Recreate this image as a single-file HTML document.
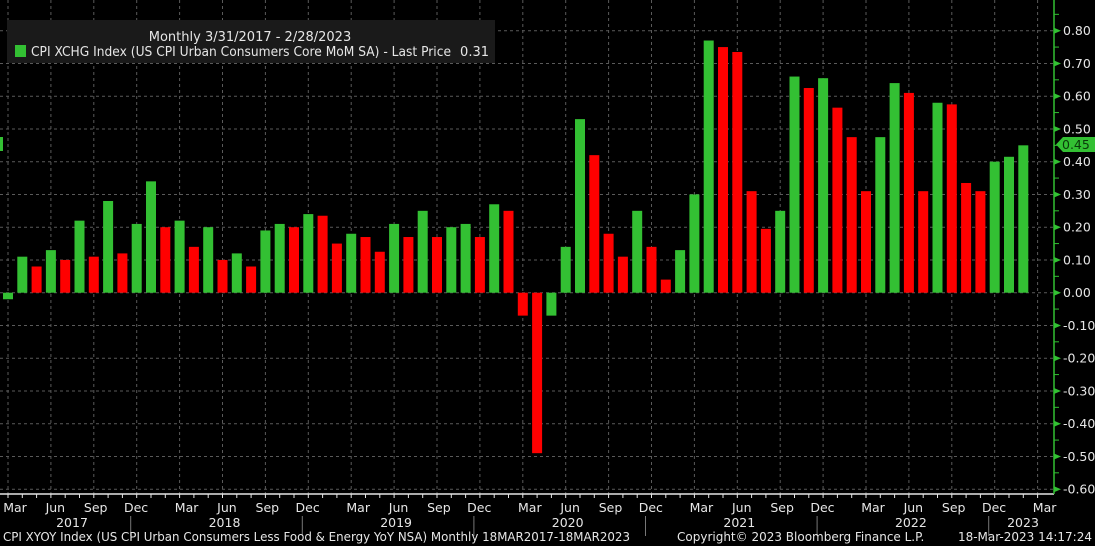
<!DOCTYPE html>
<html><head><meta charset="utf-8"><style>
html,body{margin:0;padding:0;background:#000;}
svg{display:block;font-family:"DejaVu Sans","Liberation Sans",sans-serif;}
</style></head><body>
<svg id="chart" width="1095" height="546" viewBox="0 0 1095 546" xmlns="http://www.w3.org/2000/svg">
<rect x="0" y="0" width="1095" height="546" fill="#000"/>
<g id="grid"></g>
<g id="bars"></g>
<g id="xaxis"></g>
<g id="yaxis"></g>
<g>
<rect x="7" y="20" width="488" height="43" fill="#1a1a1a"/>
<text x="250" y="41" fill="#e6e6e6" font-size="13" text-anchor="middle">Monthly 3/31/2017 - 2/28/2023</text>
<rect x="15" y="45" width="11" height="12" fill="#33c033"/>
<text x="31" y="56" fill="#e6e6e6" font-size="13" textLength="420" lengthAdjust="spacingAndGlyphs">CPI XCHG Index (US CPI Urban Consumers Core MoM SA) - Last Price</text>
<text x="489" y="56" fill="#e6e6e6" font-size="13" text-anchor="end">0.31</text>
</g>
<rect x="0" y="137" width="3" height="14" fill="#33c033"/>
<g>
<polygon points="1056,144.5 1063,137 1095,137 1095,152 1063,152" fill="#33c033"/>
<text x="1062" y="149" fill="#0a3a0a" font-size="12.5">0.45</text>
</g>
<text x="3" y="541" fill="#e6e6e6" font-size="12" textLength="627" lengthAdjust="spacingAndGlyphs">CPI XYOY Index (US CPI Urban Consumers Less Food &amp; Energy YoY NSA)   Monthly 18MAR2017-18MAR2023</text>
<text x="677" y="541" fill="#e6e6e6" font-size="12">Copyright© 2023 Bloomberg Finance L.P.</text>
<text x="1092" y="541" fill="#e6e6e6" font-size="12" text-anchor="end">18-Mar-2023 14:17:24</text>
</svg>
<script>
const startYear = 2017;
const startMonth = 2; // March (0-based)
const values = [
 -0.02,0.11,0.08,0.13,0.10,0.22,0.11,0.28,0.12,0.21,
 0.34,0.20,0.22,0.14,0.20,0.10,0.12,0.08,0.19,0.21,0.20,0.24,
 0.235,0.15,0.18,0.17,0.125,0.21,0.17,0.25,0.17,0.20,0.21,0.17,
 0.27,0.25,-0.07,-0.49,-0.07,0.14,0.53,0.42,0.18,0.11,0.25,0.14,
 0.04,0.13,0.30,0.77,0.75,0.735,0.31,0.195,0.25,0.66,0.625,0.655,
 0.565,0.475,0.31,0.475,0.64,0.61,0.31,0.58,0.575,0.335,0.31,0.40,
 0.415,0.45
];
const yTicks = [0.8,0.7,0.6,0.5,0.4,0.3,0.2,0.1,0,-0.1,-0.2,-0.3,-0.4,-0.5,-0.6];
const monthNames = ["Jan","Feb","Mar","Apr","May","Jun","Jul","Aug","Sep","Oct","Nov","Dec"];

const NS = "http://www.w3.org/2000/svg";
const X0 = 8, DX = 14.3, Y0 = 292.7, PPU = 327.5, AXX = 1054, AXY = 494;
function xs(i){ return X0 + i*DX; }
function ys(v){ return Y0 - v*PPU; }
function mk(tag, attrs, parent){
  const e = document.createElementNS(NS, tag);
  for (const k in attrs) e.setAttribute(k, attrs[k]);
  parent.appendChild(e); return e;
}
const grid = document.getElementById('grid');
const bars = document.getElementById('bars');
const xaxis = document.getElementById('xaxis');
const yaxis = document.getElementById('yaxis');

yTicks.forEach(t => {
  const y = ys(t);
  const l = mk('line', {x1:0, x2:AXX, y1:y, y2:y, stroke:'#5a5a5a', 'stroke-width':1, 'stroke-dasharray':'3,3'}, grid);
  
  
  const tri = mk('polygon', {points:`${AXX},${y-3} ${AXX+7},${y} ${AXX},${y+3}`, fill:'#33c033'}, yaxis);
  
  
  const tx = mk('text', {x:AXX+9, y:y+4.5, fill:'#e6e6e6', 'font-size':12.5}, yaxis);
  tx.textContent = (t<0?'-':'') + Math.abs(t).toFixed(2);
  
  
});
for (let k = -12; k <= 17; k++) {
  const y = ys(k*0.05);
  if (k % 2 !== 0) {
    const m = mk('line', {x1:AXX, x2:AXX+5, y1:y, y2:y, stroke:'#33c033', 'stroke-width':1}, yaxis);
    
    
  }
}
const yl = mk('line', {x1:AXX, x2:AXX, y1:0, y2:AXY, stroke:'#33c033', 'stroke-width':1.5}, yaxis);



const nMonths = values.length + 1;
for (let i = 0; i < nMonths; i++) {
  const m = (startMonth + i) % 12;
  const yr = startYear + Math.floor((startMonth + i) / 12);
  const x = xs(i);
  const tk = mk('line', {x1:x, x2:x, y1:AXY, y2:AXY+4, stroke:'#e6e6e6', 'stroke-width':1}, xaxis);
  
  
  if (m % 3 === 2) {
    const g = mk('line', {x1:x, x2:x, y1:0, y2:AXY, stroke:'#5a5a5a', 'stroke-width':1, 'stroke-dasharray':'3,3'}, grid);
    
    
    const t = mk('text', {x:x + 7 - (i%12)*0.85, y:AXY+18, fill:'#e6e6e6', 'font-size':12.5, 'text-anchor':'middle'}, xaxis);
    t.textContent = monthNames[m];
    
    
  }
  if (m === 11 && i < nMonths - 1) {
    const s = mk('line', {x1:x-6, x2:x-6, y1:AXY+22, y2:AXY+42, stroke:'#777', 'stroke-width':1}, xaxis);
    
    
  }
  if (m === 5) {
    const t = mk('text', {x: yr === startYear ? 72 : x + 2, y:AXY+33, fill:'#e6e6e6', 'font-size':12.5, 'text-anchor':'middle'}, xaxis);
    t.textContent = String(yr);
    
    
  }
}
{
  const t = mk('text', {x:1023, y:AXY+33, fill:'#e6e6e6', 'font-size':12.5, 'text-anchor':'middle'}, xaxis);
  t.textContent = '2023';
  
  
}
const xl = mk('line', {x1:0, x2:AXX, y1:AXY, y2:AXY, stroke:'#e6e6e6', 'stroke-width':1.5}, xaxis);



values.forEach((v, i) => {
  const up = i === 0 || v >= values[i-1];
  const y1 = ys(Math.max(v,0)), y2 = ys(Math.min(v,0));
  const r = mk('rect', {x:xs(i)-5, y:y1, width:10, height:Math.max(1,y2-y1), fill: up ? '#33c033' : '#ff0000'}, bars);
  
  
});
</script>
</body></html>
